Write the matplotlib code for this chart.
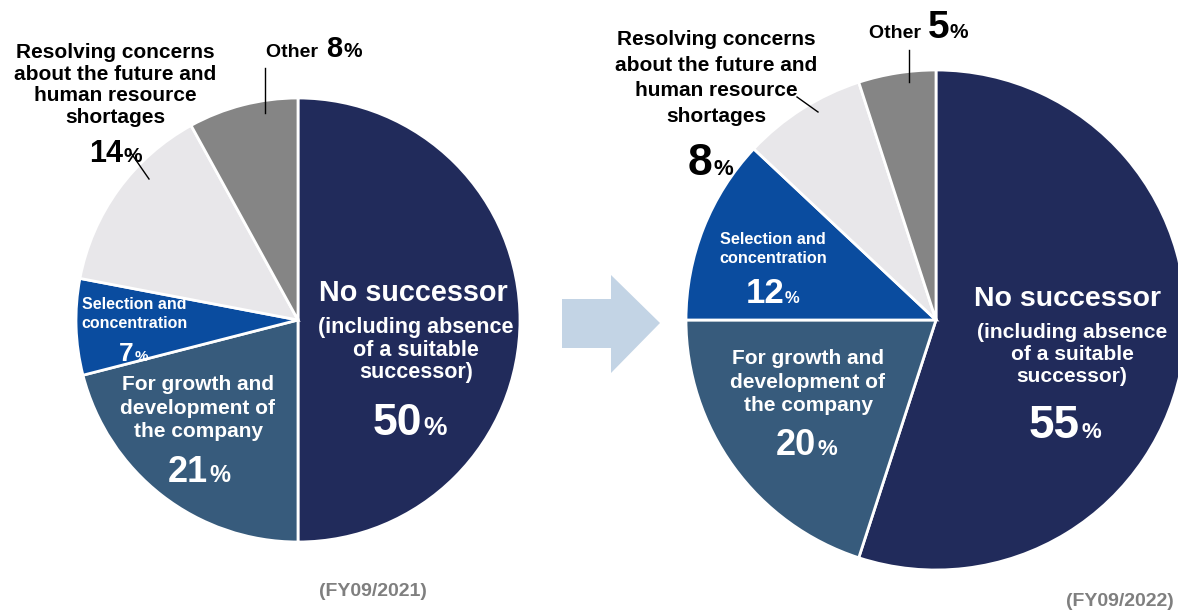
#!/usr/bin/env python3
"""Business succession reasons: FY09/2021 vs FY09/2022 pie charts."""

import matplotlib
matplotlib.use("Agg")
import matplotlib.pyplot as plt
from matplotlib.patches import Polygon

plt.rcParams["font.family"] = ["Liberation Sans", "DejaVu Sans"]
plt.rcParams["font.weight"] = "bold"

W, H = 1178, 612

categories = [
    "No successor",
    "For growth and development of the company",
    "Selection and concentration",
    "Resolving concerns about the future and human resource shortages",
    "Other",
]
share_2021 = [50, 21, 7, 14, 8]
share_2022 = [55, 20, 12, 8, 5]
period_labels = ["(FY09/2021)", "(FY09/2022)"]

COLORS = ["#212B5B", "#375B7C", "#0A4C9F", "#E8E7EA", "#858585"]


def py(y):
    """Convert a top-down pixel row into data y."""
    return H - y


def pct(ax, x, y, value, big, small, color):
    """Number with a smaller percent sign, split at x, baseline at pixel row y."""
    ax.text(x, py(y), f"{value}", ha="right", va="baseline", fontsize=big,
            color=color, fontweight="bold")
    ax.text(x + 1, py(y), "%", ha="left", va="baseline", fontsize=small,
            color=color, fontweight="bold")


fig = plt.figure(figsize=(W / 100, H / 100), dpi=100)
ax = fig.add_axes([0, 0, 1, 1])

for values, center, radius in ((share_2021, (298, py(320)), 222),
                               (share_2022, (936, py(320)), 250)):
    ax.pie(values, colors=COLORS, startangle=90, counterclock=False,
           center=center, radius=radius,
           wedgeprops=dict(edgecolor="white", linewidth=2))

ax.set_xlim(0, W)
ax.set_ylim(0, H)
ax.set_aspect("auto")
ax.axis("off")

white = "white"
black = "black"
line_kw = dict(color=black, linewidth=1)

# ---- FY09/2021 ----
ax.text(413, py(293), "No successor", ha="center", va="center", fontsize=20.7, color=white)
ax.text(416, py(350), "(including absence\nof a suitable\nsuccessor)", ha="center",
        va="center", fontsize=15.5, color=white, linespacing=1.12)
pct(ax, 422, 435, share_2021[0], 32, 19, white)

ax.text(198, py(408), "For growth and\ndevelopment of\nthe company", ha="center",
        va="center", fontsize=15, color=white, linespacing=1.28)
pct(ax, 208, 482, share_2021[1], 26, 17, white)

ax.text(134, py(314), "Selection and\nconcentration", ha="center", va="center",
        fontsize=11.5, color=white, linespacing=1.3)
pct(ax, 134, 361, share_2021[2], 19, 11, white)

ax.text(115, py(85), "Resolving concerns\nabout the future and\nhuman resource\nshortages",
        ha="center", va="center", fontsize=15, color=black, linespacing=1.16)
pct(ax, 123, 162, share_2021[3], 22, 15, black)
ax.plot([131, 149], [py(153), py(179)], **line_kw)

ax.text(323, py(57), "Other ", ha="right", va="baseline", fontsize=14, color=black)
pct(ax, 342, 57, share_2021[4], 21, 15, black)
ax.plot([265, 265], [py(68), py(113)], **line_kw)

# ---- FY09/2022 ----
ax.text(1068, py(299), "No successor", ha="center", va="center", fontsize=20.5, color=white)
ax.text(1072, py(354), "(including absence\nof a suitable\nsuccessor)", ha="center",
        va="center", fontsize=15.1, color=white, linespacing=1.2)
pct(ax, 1080, 438, share_2022[0], 33, 16, white)

ax.text(808, py(382), "For growth and\ndevelopment of\nthe company", ha="center",
        va="center", fontsize=15, color=white, linespacing=1.3)
pct(ax, 816, 455, share_2022[1], 26, 16, white)

ax.text(773, py(249), "Selection and\nconcentration", ha="center", va="center",
        fontsize=11.7, color=white, linespacing=1.28)
pct(ax, 784, 303, share_2022[2], 25, 12, white)

ax.text(716, py(78), "Resolving concerns\nabout the future and\nhuman resource\nshortages",
        ha="center", va="center", fontsize=15, color=black, linespacing=1.45)
pct(ax, 712, 175, share_2022[3], 32, 16, black)
ax.plot([797, 818], [py(97), py(112)], **line_kw)

ax.text(926, py(38), "Other ", ha="right", va="baseline", fontsize=14, color=black)
pct(ax, 949, 38, share_2022[4], 28, 15, black)
ax.plot([909, 909], [py(50), py(82)], **line_kw)

# ---- arrow between the pies ----
arrow_px = [(562, 299), (611, 299), (611, 275), (660, 323),
            (611, 373), (611, 348), (562, 348)]
ax.add_patch(Polygon([(x, py(y)) for x, y in arrow_px], closed=True,
                     facecolor="#C3D4E5", edgecolor="none"))

# ---- period labels ----
ax.text(373, py(592), period_labels[0], ha="center", va="center",
        fontsize=14, color="#7F7F7F")
ax.text(1066, py(601), period_labels[1], ha="left", va="center",
        fontsize=14, color="#7F7F7F")

fig.savefig("out.png", dpi=100)
plt.close(fig)
